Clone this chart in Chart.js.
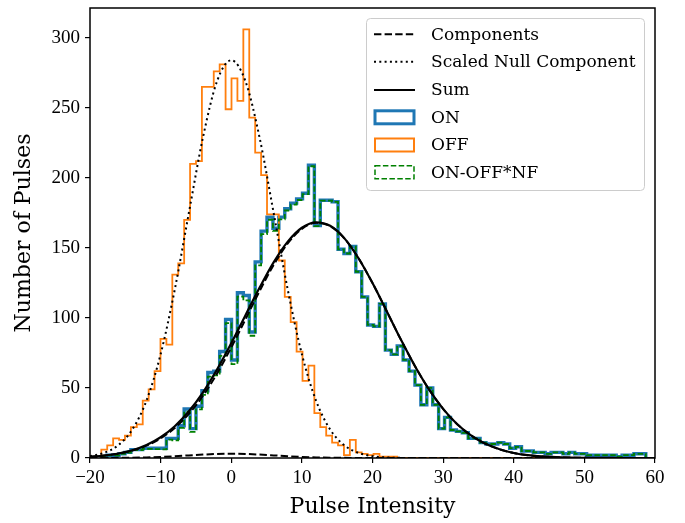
<!DOCTYPE html>
<html>
<head>
<meta charset="utf-8">
<script src="https://cdn.jsdelivr.net/npm/chart.js@4.4.1/dist/chart.umd.min.js"></script>
<style>
html,body{margin:0;padding:0;background:#fff;}
canvas{display:block;}
</style>
</head>
<body>
<canvas id="c" width="685" height="523"></canvas>
<script>
// ---- Data ----
const binStart = -18.4;      // left edge of first histogram bin
const binWidth = 0.838;      // histogram bin width

// counts per bin (92 bins)
const onCounts = [1,2,2,3,4,6,6,7,7,7, 7,14,14,23,35,21,37,48,61,62,
  76,99,70,118,116,90,140,162,172,164, 172,178,182,185,189,209,166,184,184,183,
  149,146,151,133,115,95,94,110,77,74, 80,70,62,52,38,50,38,21,29,20,
  19,18,14,14,11,10,10,11,10,7, 8,5,5,4,4,3,4,4,3,4,
  3,3,2,2,2,2,2,1,2,2, 3,3];
const offCounts = [6,9,14,13,16,22,24,41,49,62, 85,81,131,139,170,210,212,265,265,276,
  281,249,271,255,306,243,218,202,174,174, 141,115,97,76,55,66,32,22,16,11,
  9,2,13,4,3,2,3,1,1,1, 0,0,0,0,0,0,0,0,0,0,
  0,0,0,0,0,0,0,0,0,0, 0,0,0,0,0,0,0,0,0,0,
  0,0,0,0,0,0,0,0,0,0, 0,0];
const diffCounts = [0.9,1.9,1.9,2.9,3.8,5.8,5.7,6.5,6.5,6.3, 6.1,13.1,12.6,21.5,33.1,18.7,34.7,45.1,58.1,59,
  72.9,96.3,67,115.2,112.6,87.3,137.6,159.8,170.1,162.1, 170.4,176.7,180.9,184.2,188.4,208.3,165.6,183.8,183.8,182.9,
  148.9,146,150.9,133,115,95,94,110,77,74, 80,70,62,52,38,50,38,21,29,20,
  19,18,14,14,11,10,10,11,10,7, 8,5,5,4,4,3,4,4,3,4,
  3,3,2,2,2,2,2,1,2,2, 3,3];

// fitted curves sampled every 2 units
const curveX = [-20,-18,-16,-14,-12,-10,-8,-6,-4,-2,0,2,4,6,8,10,12,14,16,18,20,
  22,24,26,28,30,32,34,36,38,40,42,44,46,48,50,52,54,56,58,60];
const sumCurve = [0.9,1.8,3.2,5.5,9.2,14.8,22.7,33.4,46.9,63.3,81.9,101.8,121.5,139.7,154.5,164.4,168.3,165.8,157.0,142.8,124.9,
  105.0,84.7,65.7,49.0,35.1,24.1,16.0,10.1,6.2,3.6,2.0,1.1,0.6,0.3,0.1,0.05,0.02,0.01,0,0];
const pulseComp = [0.9,1.7,3.1,5.3,8.8,14.0,21.4,31.5,44.5,60.4,78.9,98.9,119.1,137.8,153.2,163.6,167.9,165.6,156.9,142.8,124.9,
  105.0,84.7,65.7,49.0,35.1,24.1,16.0,10.1,6.2,3.6,2.0,1.1,0.6,0.3,0.1,0.05,0.02,0.01,0,0];
const nullComp = [0.01,0.04,0.1,0.22,0.43,0.79,1.27,1.86,2.43,2.85,3.0,2.85,2.43,1.86,1.27,0.79,0.43,0.22,0.1,0.04,0.01,
  0,0,0,0,0,0,0,0,0,0,0,0,0,0,0,0,0,0,0,0];
const scaledNull = [1.3,3.7,9.1,20.4,41.0,74.1,120.2,175.1,229.0,269.2,284,269.2,229.0,175.1,120.2,74.1,41.0,20.4,9.1,3.7,1.3,
  0.4,0.1,0,0,0,0,0,0,0,0,0,0,0,0,0,0,0,0,0,0];

const xTicks = [-20,-10,0,10,20,30,40,50,60];
const yTicks = [0,50,100,150,200,250,300];
const legendLabels = ['Components','Scaled Null Component','Sum','ON','OFF','ON-OFF*NF'];

// ---- build step outlines ----
function stepPoints(counts){
  const pts = [{x: binStart, y: 0}];
  counts.forEach((v,k)=>pts.push({x: binStart + k*binWidth, y: v}));
  pts.push({x: binStart + counts.length*binWidth, y: 0});
  return pts;
}
function curvePoints(vals){ return curveX.map((x,i)=>({x, y: vals[i]})); }

const SERIF = "'Liberation Serif', 'Times New Roman', serif";
const TSERIF = "'DejaVu Serif', serif";

const framePlugin = {
  id: 'frame',
  afterDatasetsDraw(chart){
    const {ctx, chartArea:a} = chart;
    ctx.save();
    ctx.strokeStyle = '#000'; ctx.lineWidth = 1.5;
    ctx.strokeRect(a.left, a.top, a.right - a.left, a.bottom - a.top);
    ctx.restore();
  }
};

const legendPlugin = {
  id: 'customLegend',
  afterDraw(chart){
    const ctx = chart.ctx;
    ctx.save();
    const bx = 366.5, by = 18.5, bw = 278, bh = 172;
    ctx.fillStyle = 'rgba(255,255,255,0.8)';
    ctx.strokeStyle = '#cccccc'; ctx.lineWidth = 1;
    ctx.beginPath(); ctx.roundRect(bx, by, bw, bh, 4); ctx.fill(); ctx.stroke();
    const ys = [34.3, 61.7, 90, 117.3, 145, 172.3];
    const x0 = 374, x1 = 415;
    ctx.strokeStyle = '#000'; ctx.lineWidth = 2;
    ctx.setLineDash([7.4,3.2]);
    ctx.beginPath(); ctx.moveTo(x0, ys[0]); ctx.lineTo(x1, ys[0]); ctx.stroke();
    ctx.setLineDash([2,3.3]);
    ctx.beginPath(); ctx.moveTo(x0, ys[1]); ctx.lineTo(x1, ys[1]); ctx.stroke();
    ctx.setLineDash([]);
    ctx.beginPath(); ctx.moveTo(x0, ys[2]); ctx.lineTo(x1, ys[2]); ctx.stroke();
    ctx.lineWidth = 3; ctx.strokeStyle = '#1f77b4';
    ctx.strokeRect(x0+1, ys[3]-6.5, x1-x0-2, 13);
    ctx.lineWidth = 2; ctx.strokeStyle = '#ff7f0e';
    ctx.strokeRect(x0+1, ys[4]-6.5, x1-x0-2, 13);
    ctx.lineWidth = 1.5; ctx.strokeStyle = '#008000'; ctx.setLineDash([5.5,2.4]);
    ctx.strokeRect(x0+1, ys[5]-6.5, x1-x0-2, 13);
    ctx.setLineDash([]);
    ctx.fillStyle = '#000';
    ctx.font = "17px " + TSERIF;
    ctx.textBaseline = 'middle';
    legendLabels.forEach((t,i)=>ctx.fillText(t, 431, ys[i]+1));
    ctx.restore();
  }
};

const fmtMinus = v => String(v).replace('-', '\u2212');

new Chart(document.getElementById('c'), {
  type: 'line',
  data: {
    datasets: [
      {label:'ON', data: stepPoints(onCounts), stepped:true, borderColor:'#1f77b4', borderWidth:3.4, pointRadius:0, fill:false, order:5},
      {label:'OFF', data: stepPoints(offCounts), stepped:true, borderColor:'#ff7f0e', borderWidth:1.8, pointRadius:0, fill:false, order:4},
      {label:'ON-OFF*NF', data: stepPoints(diffCounts), stepped:true, borderColor:'#008000', borderWidth:1.8, borderDash:[5.5,2.4], pointRadius:0, fill:false, order:3},
      {label:'Components', data: curvePoints(nullComp), borderColor:'#000', borderWidth:2, borderDash:[7.4,3.2], pointRadius:0, cubicInterpolationMode:'monotone', fill:false, order:2},
      {label:'Components2', data: curvePoints(pulseComp), borderColor:'#000', borderWidth:2, borderDash:[7.4,3.2], pointRadius:0, cubicInterpolationMode:'monotone', fill:false, order:2},
      {label:'Scaled Null Component', data: curvePoints(scaledNull), borderColor:'#000', borderWidth:2, borderDash:[2,3.3], pointRadius:0, cubicInterpolationMode:'monotone', fill:false, order:1},
      {label:'Sum', data: curvePoints(sumCurve), borderColor:'#000', borderWidth:2.2, pointRadius:0, cubicInterpolationMode:'monotone', fill:false, order:0}
    ]
  },
  options: {
    responsive: false,
    animation: false,
    devicePixelRatio: 1,
    layout: {padding: {left: 0, right: 30, top: 8, bottom: 0}},
    plugins: {legend: {display:false}, tooltip: {enabled:false}},
    scales: {
      x: {
        type: 'linear', min: -20, max: 60,
        afterBuildTicks: s => { s.ticks = xTicks.map(v=>({value:v})); },
        afterFit: s => { s.height = 65; s.paddingLeft = 0; s.paddingRight = 0; },
        grid: {display:true, drawOnChartArea:false, drawTicks:true, tickLength:5, color:'#000', lineWidth:1.2},
        border: {display:false},
        ticks: {color:'#000', font:{family:SERIF, size:19}, padding:4, maxRotation:0, callback: v => fmtMinus(v)},
        title: {display:true, text:'Pulse Intensity', color:'#000', font:{family:TSERIF, size:22}, padding:{top:0, bottom:3}}
      },
      y: {
        type: 'linear', min: 0, max: 321.3,
        afterBuildTicks: s => { s.ticks = yTicks.map(v=>({value:v})); },
        afterFit: s => { s.width = 90; s.paddingTop = 0; s.paddingBottom = 0; },
        grid: {display:true, drawOnChartArea:false, drawTicks:true, tickLength:5, color:'#000', lineWidth:1.2},
        border: {display:false},
        ticks: {color:'#000', font:{family:SERIF, size:19}, padding:5, callback: v => fmtMinus(v)},
        title: {display:true, text:'Number of Pulses', color:'#000', font:{family:TSERIF, size:22}, padding:{top:11, bottom:0}}
      }
    }
  },
  plugins: [framePlugin, legendPlugin]
});
</script>
</body>
</html>
